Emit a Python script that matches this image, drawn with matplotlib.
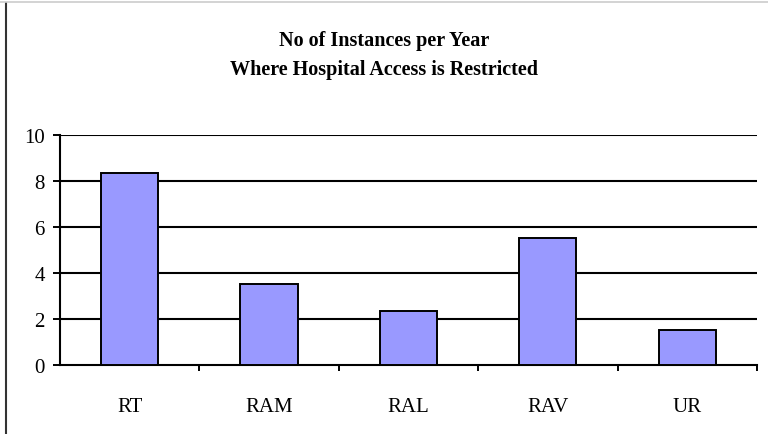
import matplotlib.pyplot as plt
import numpy as np
from matplotlib.lines import Line2D

# incidents per year by category
categories = ["RT", "RAM", "RAL", "RAV", "UR"]
instances = [8.33, 3.5, 2.33, 5.5, 1.5]
y_ticks = [0, 2, 4, 6, 8, 10]

plt.rcParams['font.family'] = ['Liberation Serif', 'DejaVu Serif']

fig = plt.figure(figsize=(7.68, 4.35), dpi=100)
ax = fig.add_axes([0.078, 0.1593, 0.9077, 0.5287])

x = np.arange(len(categories))
ax.bar(x, instances, width=0.41, color='#9999ff', edgecolor='black',
       linewidth=1.4, zorder=3)

ax.set_xlim(-0.5, len(categories) - 0.5)
ax.set_ylim(0, 10)
ax.set_yticks(y_ticks)
ax.set_yticklabels([str(t) for t in y_ticks], fontsize=15)
ax.set_xticks(x)
ax.set_xticklabels(categories, fontsize=15)
ax.set_xticks(np.arange(len(categories)) + 0.5, minor=True)
ax.tick_params(axis='x', which='major', length=0, pad=23)
ax.tick_params(axis='x', which='minor', length=4, width=1.4, direction='out')
ax.tick_params(axis='y', length=5, width=1.4, direction='out', pad=6)

# horizontal gridlines
for t in y_ticks[1:]:
    ax.axhline(t, color='black', linewidth=1.5, zorder=1)

for side in ['top', 'right']:
    ax.spines[side].set_visible(False)
for side in ['left', 'bottom']:
    ax.spines[side].set_linewidth(1.5)

fig.text(0.5, 0.905, "No of Instances per Year", ha='center', va='center',
         fontsize=14.5, fontweight='bold')
fig.text(0.5, 0.838, "Where Hospital Access is Restricted", ha='center',
         va='center', fontsize=14.5, fontweight='bold')

# outer frame lines
fig.add_artist(Line2D([0.008, 0.008], [0, 0.99], color='#333333', linewidth=1.5))
fig.add_artist(Line2D([0, 1], [0.992, 0.992], color='#cccccc', linewidth=1.2))

fig.savefig("out.png", dpi=100)
